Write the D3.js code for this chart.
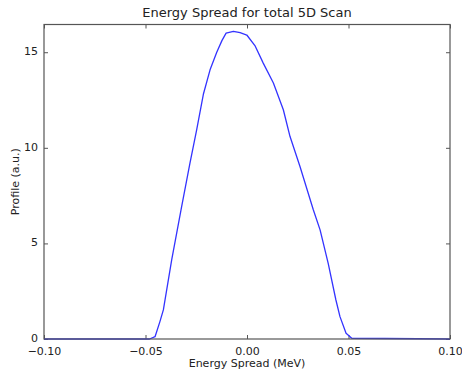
<!DOCTYPE html>
<html>
<head>
<meta charset="utf-8">
<script src="https://cdn.jsdelivr.net/npm/d3@7"></script>
<style>
  body { margin: 0; background: #fff; }
  svg { font-family: "DejaVu Sans", sans-serif; }
</style>
</head>
<body>
<div id="container"></div>
<script>
/* DATA */
const energy = [-0.100, -0.048, -0.0453, -0.0429, -0.0412, -0.0371, -0.0322, -0.0281, -0.0248,
  -0.0215, -0.0182, -0.0149, -0.0123, -0.0103, -0.0067, -0.0034, -0.0001, 0.0039, 0.0080, 0.0130,
  0.0179, 0.0212, 0.0261, 0.0327, 0.0360, 0.0400, 0.0438, 0.0458, 0.0488, 0.0516, 0.100];
const profile = [0, 0, 0.12, 0.91, 1.52, 4.14, 6.93, 9.20, 10.94,
  12.80, 14.08, 15.00, 15.62, 16.00, 16.09, 16.02, 15.90, 15.35, 14.43, 13.39,
  11.99, 10.59, 9.02, 6.75, 5.71, 3.96, 2.04, 1.17, 0.30, 0.04, 0];
const xTicks = [-0.10, -0.05, 0.00, 0.05, 0.10];
const yTicks = [0, 5, 10, 15];

/* CONSTANTS */
const width = 462, height = 374,
  margin = { top: 24.5, right: 12, bottom: 35, left: 44 };

const data = energy.map((e, i) => ({ x: e, y: profile[i] }));

const svg = d3.select("#container").append("svg")
  .attr("width", width)
  .attr("height", height);

/* SCALES */
const xScale = d3.scaleLinear()
  .domain([-0.1, 0.1])
  .range([margin.left, width - margin.right]);

const yScale = d3.scaleLinear()
  .domain([0, 16.45])
  .range([height - margin.bottom, margin.top]);

const fmt = d3.format(".2f");

// axes, ticks pointing inward like matplotlib classic
const tickLen = 4;
svg.append("g")
  .attr("transform", `translate(0,${height - margin.bottom})`)
  .call(d3.axisBottom(xScale).tickValues(xTicks).tickFormat(fmt).tickSizeInner(-tickLen).tickSizeOuter(0).tickPadding(8))
  .call(g => g.select(".domain").remove());

svg.append("g")
  .attr("transform", `translate(0,${margin.top})`)
  .call(d3.axisTop(xScale).tickValues(xTicks).tickFormat("").tickSizeInner(-tickLen).tickSizeOuter(0))
  .call(g => g.select(".domain").remove());

svg.append("g")
  .attr("transform", `translate(${margin.left},0)`)
  .call(d3.axisLeft(yScale).tickValues(yTicks).tickSizeInner(-tickLen).tickSizeOuter(0).tickPadding(6))
  .call(g => g.select(".domain").remove())
  .call(g => g.selectAll(".tick text").attr("dy", "0.22em"));

svg.append("g")
  .attr("transform", `translate(${width - margin.right},0)`)
  .call(d3.axisRight(yScale).tickValues(yTicks).tickFormat("").tickSizeInner(-tickLen).tickSizeOuter(0))
  .call(g => g.select(".domain").remove());

svg.selectAll(".tick text")
  .attr("font-size", 11)
  .attr("fill", "#222")
  .attr("font-family", "DejaVu Sans, sans-serif");
svg.selectAll(".tick line").attr("stroke", "#555");

// line
const line = d3.line()
  .x(d => xScale(d.x))
  .y(d => yScale(d.y));

svg.append("path")
  .datum(data)
  .attr("fill", "none")
  .attr("stroke", "#3333ff")
  .attr("stroke-width", 1.3)
  .attr("stroke-linejoin", "round")
  .attr("d", line);

// frame
svg.append("rect")
  .attr("x", margin.left)
  .attr("y", margin.top)
  .attr("width", width - margin.left - margin.right)
  .attr("height", height - margin.top - margin.bottom)
  .attr("fill", "none")
  .attr("stroke", "#555")
  .attr("stroke-width", 1.2);

// labels
svg.append("text")
  .attr("x", (margin.left + width - margin.right) / 2)
  .attr("y", 17)
  .attr("text-anchor", "middle")
  .attr("font-size", 13)
  .attr("fill", "#222")
  .text("Energy Spread for total 5D Scan");

svg.append("text")
  .attr("x", (margin.left + width - margin.right) / 2)
  .attr("y", 367)
  .attr("text-anchor", "middle")
  .attr("font-size", 11)
  .attr("fill", "#222")
  .text("Energy Spread (MeV)");

svg.append("text")
  .attr("transform", `translate(19,${(margin.top + height - margin.bottom) / 2}) rotate(-90)`)
  .attr("text-anchor", "middle")
  .attr("font-size", 11)
  .attr("fill", "#222")
  .text("Profile (a.u.)");
</script>
</body>
</html>
